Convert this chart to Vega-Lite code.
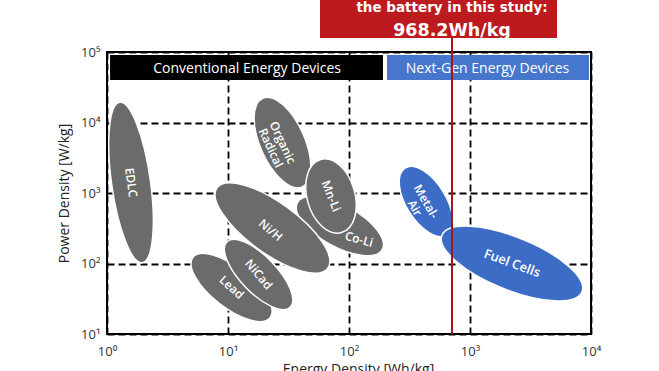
{
  "$schema": "https://vega.github.io/schema/vega-lite/v6.json",
  "width": 484,
  "height": 282,
  "autosize": {"type": "none"},
  "padding": {"left": 107, "top": 52, "right": 68, "bottom": 37},
  "background": "white",
  "config": {"view": {"stroke": "black", "strokeWidth": 2}, "font": "Open Sans"},
  "datasets": {
    "devices": [
      {"device": "EDLC", "label": "EDLC", "energy": 1.58, "power": 1409},
      {"device": "Organic Radical", "label": "Organic\nRadical", "energy": 28.2, "power": 5200},
      {"device": "Co-Li", "label": "Co-Li", "energy": 84, "power": 340},
      {"device": "Mn-Li", "label": "Mn-Li", "energy": 71, "power": 906},
      {"device": "Ni/H", "label": "Ni/H", "energy": 23.3, "power": 319},
      {"device": "Lead", "label": "Lead", "energy": 10.7, "power": 45.7},
      {"device": "NiCad", "label": "NiCad", "energy": 17.9, "power": 69.8},
      {"device": "Metal-Air", "label": "Metal-\nAir", "energy": 433, "power": 757},
      {"device": "Fuel Cells", "label": "Fuel Cells", "energy": 2223, "power": 100}
    ],
    "banners": [
      {"group": "Conventional", "text": "Conventional Energy Devices", "energy": 1.06, "energy2": 191, "power": 90700, "power2": 40100, "midEnergy": 14.4, "midPower": 57000},
      {"group": "Next-Gen", "text": "Next-Gen Energy Devices", "energy": 206, "energy2": 9620, "power": 90700, "power2": 40100, "midEnergy": 1396, "midPower": 57000}
    ]
  },
  "encoding": {
    "x": {
      "field": "energy", "type": "quantitative",
      "scale": {"type": "log", "domain": [1, 10000], "nice": false},
      "axis": {
        "title": "Energy Density [Wh/kg]",
        "values": [1, 10, 100, 1000, 10000],
        "labelExpr": "'10' + ['⁰','¹','²','³','⁴','⁵'][round(log(datum.value)/LN10)]",
        "grid": true, "gridColor": "black", "gridDash": [7, 4], "gridWidth": 1.8, "gridOpacity": 1,
        "ticks": false, "domain": false, "labelFlush": false,
        "labelFontSize": 13, "labelColor": "#333", "labelPadding": 11,
        "titleFontSize": 14, "titleFontWeight": "normal", "titleColor": "#222", "titlePadding": 4, "titleX": 251
      }
    },
    "y": {
      "field": "power", "type": "quantitative",
      "scale": {"type": "log", "domain": [10, 100000], "nice": false},
      "axis": {
        "title": "Power Density [W/kg]",
        "values": [10, 100, 1000, 10000, 100000],
        "labelExpr": "'10' + ['⁰','¹','²','³','⁴','⁵'][round(log(datum.value)/LN10)]",
        "grid": true, "gridColor": "black", "gridDash": [7, 4], "gridWidth": 1.8, "gridOpacity": 1,
        "ticks": false, "domain": false, "labelFlush": false,
        "labelFontSize": 13, "labelColor": "#333", "labelPadding": 7,
        "titleFontSize": 14, "titleFontWeight": "normal", "titleColor": "#222", "titlePadding": 9
      }
    }
  },
  "layer": [
    {
      "data": {"name": "banners"},
      "mark": {"type": "rect"},
      "encoding": {
        "x2": {"field": "energy2"},
        "y2": {"field": "power2"},
        "color": {"field": "group", "type": "nominal", "scale": {"domain": ["Conventional", "Next-Gen"], "range": ["black", "#4677cc"]}, "legend": null}
      }
    },
    {
      "data": {"name": "banners"},
      "mark": {"type": "text", "color": "white", "fontSize": 14, "baseline": "middle"},
      "encoding": {
        "x": {"field": "midEnergy", "type": "quantitative"},
        "y": {"field": "midPower", "type": "quantitative"},
        "text": {"field": "text"}
      }
    },
    {
      "data": {"name": "devices"},
      "transform": [{"filter": "datum.device === 'EDLC'"}],
      "layer": [
        {"mark": {"type": "point", "filled": true, "opacity": 1, "fill": "#6b6b6b", "stroke": "white", "strokeWidth": 1.5, "size": 26244, "angle": 82,
          "shape": "M-1,0C-1,-0.1326,-0.5523,-0.24,0,-0.24C0.5523,-0.24,1,-0.1326,1,0C1,0.1326,0.5523,0.24,0,0.24C-0.5523,0.24,-1,0.1326,-1,0Z"}},
        {"mark": {"type": "text", "color": "white", "fontSize": 12, "fontWeight": 600, "angle": 82, "lineBreak": "\n"}, "encoding": {"text": {"field": "label"}}}
      ]
    },
    {
      "data": {"name": "devices"},
      "transform": [{"filter": "datum.device === 'Organic Radical'"}],
      "layer": [
        {"mark": {"type": "point", "filled": true, "opacity": 1, "fill": "#6b6b6b", "stroke": "white", "strokeWidth": 1.5, "size": 9409, "angle": 66,
          "shape": "M-1,0C-1,-0.254,-0.5523,-0.46,0,-0.46C0.5523,-0.46,1,-0.254,1,0C1,0.254,0.5523,0.46,0,0.46C-0.5523,0.46,-1,0.254,-1,0Z"}},
        {"mark": {"type": "text", "color": "white", "fontSize": 12, "fontWeight": 600, "angle": 65, "lineBreak": "\n", "lineHeight": 13}, "encoding": {"text": {"field": "label"}}}
      ]
    },
    {
      "data": {"name": "devices"},
      "transform": [{"filter": "datum.device === 'Co-Li'"}],
      "layer": [
        {"mark": {"type": "point", "filled": true, "opacity": 1, "fill": "#6b6b6b", "stroke": "white", "strokeWidth": 1.5, "size": 9409, "angle": 29,
          "shape": "M-1,0C-1,-0.2375,-0.5523,-0.43,0,-0.43C0.5523,-0.43,1,-0.2375,1,0C1,0.2375,0.5523,0.43,0,0.43C-0.5523,0.43,-1,0.2375,-1,0Z"}},
        {"mark": {"type": "text", "color": "white", "fontSize": 12, "fontWeight": 600, "angle": 15, "dx": 22, "dy": 8}, "encoding": {"text": {"field": "label"}}}
      ]
    },
    {
      "data": {"name": "devices"},
      "transform": [{"filter": "datum.device === 'Mn-Li'"}],
      "layer": [
        {"mark": {"type": "point", "filled": true, "opacity": 1, "fill": "#6b6b6b", "stroke": "white", "strokeWidth": 1.5, "size": 5776, "angle": 74,
          "shape": "M-1,0C-1,-0.348,-0.5523,-0.63,0,-0.63C0.5523,-0.63,1,-0.348,1,0C1,0.348,0.5523,0.63,0,0.63C-0.5523,0.63,-1,0.348,-1,0Z"}},
        {"mark": {"type": "text", "color": "white", "fontSize": 12, "fontWeight": 600, "angle": 68}, "encoding": {"text": {"field": "label"}}}
      ]
    },
    {
      "data": {"name": "devices"},
      "transform": [{"filter": "datum.device === 'Ni/H'"}],
      "layer": [
        {"mark": {"type": "point", "filled": true, "opacity": 1, "fill": "#6b6b6b", "stroke": "white", "strokeWidth": 1.5, "size": 18769, "angle": 36,
          "shape": "M-1,0C-1,-0.2044,-0.5523,-0.37,0,-0.37C0.5523,-0.37,1,-0.2044,1,0C1,0.2044,0.5523,0.37,0,0.37C-0.5523,0.37,-1,0.2044,-1,0Z"}},
        {"mark": {"type": "text", "color": "white", "fontSize": 12, "fontWeight": 600, "angle": 40, "dy": 3}, "encoding": {"text": {"field": "label"}}}
      ]
    },
    {
      "data": {"name": "devices"},
      "transform": [{"filter": "datum.device === 'Lead'"}],
      "layer": [
        {"mark": {"type": "point", "filled": true, "opacity": 1, "fill": "#6b6b6b", "stroke": "white", "strokeWidth": 1.5, "size": 9604, "angle": 38,
          "shape": "M-1,0C-1,-0.2264,-0.5523,-0.41,0,-0.41C0.5523,-0.41,1,-0.2264,1,0C1,0.2264,0.5523,0.41,0,0.41C-0.5523,0.41,-1,0.2264,-1,0Z"}},
        {"mark": {"type": "text", "color": "white", "fontSize": 12, "fontWeight": 600, "angle": 42}, "encoding": {"text": {"field": "label"}}}
      ]
    },
    {
      "data": {"name": "devices"},
      "transform": [{"filter": "datum.device === 'NiCad'"}],
      "layer": [
        {"mark": {"type": "point", "filled": true, "opacity": 1, "fill": "#6b6b6b", "stroke": "white", "strokeWidth": 1.5, "size": 8281, "angle": 46,
          "shape": "M-1,0C-1,-0.2209,-0.5523,-0.4,0,-0.4C0.5523,-0.4,1,-0.2209,1,0C1,0.2209,0.5523,0.4,0,0.4C-0.5523,0.4,-1,0.2209,-1,0Z"}},
        {"mark": {"type": "text", "color": "white", "fontSize": 12, "fontWeight": 600, "angle": 50}, "encoding": {"text": {"field": "label"}}}
      ]
    },
    {
      "data": {"name": "devices"},
      "transform": [{"filter": "datum.device === 'Metal-Air'"}],
      "layer": [
        {"mark": {"type": "point", "filled": true, "opacity": 1, "fill": "#3c6cc5", "stroke": "white", "strokeWidth": 1.5, "size": 6241, "angle": 58,
          "shape": "M-1,0C-1,-0.276,-0.5523,-0.5,0,-0.5C0.5523,-0.5,1,-0.276,1,0C1,0.276,0.5523,0.5,0,0.5C-0.5523,0.5,-1,0.276,-1,0Z"}},
        {"mark": {"type": "text", "color": "white", "fontSize": 12, "fontWeight": 600, "angle": 60, "lineBreak": "\n", "lineHeight": 13}, "encoding": {"text": {"field": "label"}}}
      ]
    },
    {
      "data": {"name": "devices"},
      "transform": [{"filter": "datum.device === 'Fuel Cells'"}],
      "layer": [
        {"mark": {"type": "point", "filled": true, "opacity": 1, "fill": "#3c6cc5", "stroke": "white", "strokeWidth": 1.5, "size": 22801, "angle": 22,
          "shape": "M-1,0C-1,-0.1933,-0.5523,-0.35,0,-0.35C0.5523,-0.35,1,-0.1933,1,0C1,0.1933,0.5523,0.35,0,0.35C-0.5523,0.35,-1,0.1933,-1,0Z"}},
        {"mark": {"type": "text", "color": "white", "fontSize": 13, "fontWeight": 600, "angle": 20}, "encoding": {"text": {"field": "label"}}}
      ]
    },
    {
      "data": {"values": [{"energy": 710, "power": 10, "power2": 158000}]},
      "mark": {"type": "rule", "color": "#a8141c", "strokeWidth": 2},
      "encoding": {"y2": {"field": "power2"}}
    },
    {
      "data": {"values": [{"energy": 57.6, "energy2": 5236, "power": 158000, "power2": 1000000}]},
      "mark": {"type": "rect", "color": "#bd1a1f"},
      "encoding": {"x2": {"field": "energy2"}, "y2": {"field": "power2"}}
    },
    {
      "data": {"values": [{"text": "the battery in this study:", "energy": 710, "power": 369000}]},
      "mark": {"type": "text", "color": "white", "font": "DejaVu Sans", "fontSize": 13.5, "fontWeight": "bold", "baseline": "alphabetic"},
      "encoding": {"text": {"field": "text"}}
    },
    {
      "data": {"values": [{"text": "968.2Wh/kg", "energy": 710, "power": 169000}]},
      "mark": {"type": "text", "color": "white", "font": "DejaVu Sans", "fontSize": 17.5, "fontWeight": "bold", "baseline": "alphabetic"},
      "encoding": {"text": {"field": "text"}}
    }
  ]
}
